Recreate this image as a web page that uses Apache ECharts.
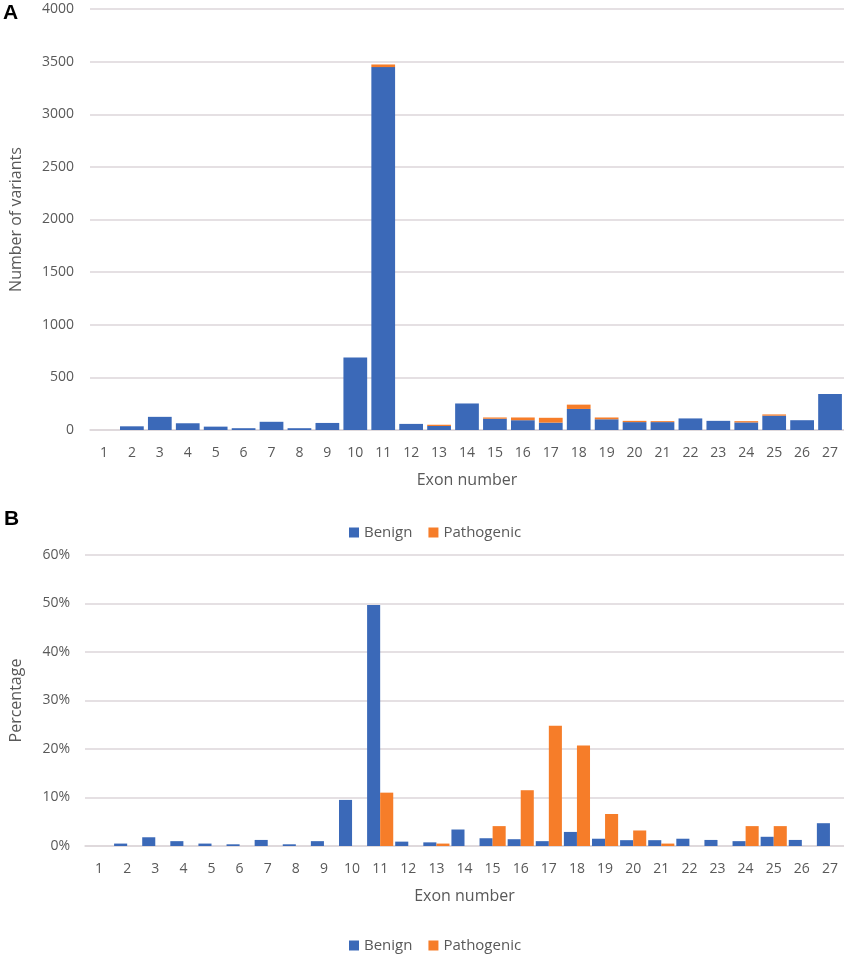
<!DOCTYPE html>
<html>
<head>
<meta charset="utf-8">
<script src="https://cdn.jsdelivr.net/npm/echarts@6/dist/echarts.min.js"></script>
<style>
  html, body { margin: 0; padding: 0; background: #fff; }
  #chart { width: 844px; height: 954px; }
</style>
</head>
<body>
<div id="chart"></div>
<script>
var exons = [];
for (var i = 1; i <= 27; i++) { exons.push(String(i)); }

// panel A: number of variants per exon (stacked)
var benignCounts = [0, 35, 125, 64, 32, 17, 78, 17, 67, 690, 3448, 58, 38, 252, 107, 93, 70, 200, 102, 75, 75, 110, 87, 72, 136, 93, 342];
var pathogenicCounts = [0, 0, 0, 0, 0, 0, 0, 0, 0, 0, 25, 0, 12, 0, 12, 26, 46, 41, 17, 12, 9, 0, 0, 12, 12, 0, 0];

// panel B: percentage of each class per exon
var benignPct = [0, 0.5, 1.8, 1.0, 0.5, 0.35, 1.25, 0.35, 1.0, 9.5, 49.7, 0.9, 0.75, 3.4, 1.6, 1.4, 1.0, 2.9, 1.5, 1.2, 1.2, 1.5, 1.25, 1.0, 1.9, 1.25, 4.7];
var pathogenicPct = [0, 0, 0, 0, 0, 0, 0, 0, 0, 0, 11, 0, 0.5, 0, 4.1, 11.5, 24.8, 20.7, 6.6, 3.2, 0.5, 0, 0, 4.1, 4.1, 0, 0];

var blue = '#3b69b8';
var orange = '#f67d29';
var grey = '#595959';
var gridColor = '#ddd6da';
var font = 'Open Sans';

var chart = echarts.init(document.getElementById('chart'));

function xAxisFor(gridIndex) {
    return {
        type: 'category',
        gridIndex: gridIndex,
        data: exons,
        name: 'Exon number',
        nameLocation: 'middle',
        nameGap: 42,
        nameTextStyle: { color: grey, fontSize: 16, fontFamily: font },
        axisLine: { lineStyle: { color: gridColor, width: 1.5 } },
        axisTick: { show: false },
        axisLabel: { color: grey, fontSize: 14, fontFamily: font, margin: 16, interval: 0 }
    };
}

var option = {
    backgroundColor: '#fff',
    animation: false,
    textStyle: { fontFamily: font },
    grid: [
        { left: 88, right: 0, top: 9, height: 421 },
        { left: 83, right: 0, top: 555, height: 291 }
    ],
    legend: [
        {
            data: ['Benign', 'Pathogenic'],
            left: 344, top: 520,
            icon: 'rect', itemWidth: 10, itemHeight: 10, itemGap: 16,
            selectedMode: false,
            textStyle: { color: grey, fontSize: 15, fontFamily: font }
        },
        {
            data: ['Benign', 'Pathogenic'],
            left: 344, top: 933,
            icon: 'rect', itemWidth: 10, itemHeight: 10, itemGap: 16,
            selectedMode: false,
            textStyle: { color: grey, fontSize: 15, fontFamily: font }
        }
    ],
    xAxis: [xAxisFor(0), xAxisFor(1)],
    yAxis: [
        {
            type: 'value',
            gridIndex: 0,
            min: 0, max: 4000, interval: 500,
            name: 'Number of variants',
            nameLocation: 'middle',
            nameGap: 66,
            nameTextStyle: { color: grey, fontSize: 16, fontFamily: font },
            axisLine: { show: false },
            axisTick: { show: false },
            axisLabel: {
                color: grey, fontSize: 14, fontFamily: font, margin: 16,
                formatter: function (v) { return String(v); }
            },
            splitLine: { lineStyle: { color: gridColor, width: 1.5 } }
        },
        {
            type: 'value',
            gridIndex: 1,
            min: 0, max: 60, interval: 10,
            name: 'Percentage',
            nameLocation: 'middle',
            nameGap: 61,
            nameTextStyle: { color: grey, fontSize: 16, fontFamily: font },
            axisLine: { show: false },
            axisTick: { show: false },
            axisLabel: { color: grey, fontSize: 14, fontFamily: font, margin: 15, formatter: '{value}%' },
            splitLine: { lineStyle: { color: gridColor, width: 1.5 } }
        }
    ],
    graphic: [
        { type: 'text', left: 3, top: 3, style: { text: 'A', fontSize: 21, fontWeight: 'bold', fontFamily: 'Liberation Sans', fill: '#000' } },
        { type: 'text', left: 4, top: 509, style: { text: 'B', fontSize: 21, fontWeight: 'bold', fontFamily: 'Liberation Sans', fill: '#000' } }
    ],
    series: [
        {
            name: 'Benign', type: 'bar', xAxisIndex: 0, yAxisIndex: 0,
            stack: 'count', barCategoryGap: '15%',
            itemStyle: { color: blue },
            data: benignCounts
        },
        {
            name: 'Pathogenic', type: 'bar', xAxisIndex: 0, yAxisIndex: 0,
            stack: 'count', barCategoryGap: '15%',
            itemStyle: { color: orange },
            data: pathogenicCounts
        },
        {
            name: 'Benign', type: 'bar', xAxisIndex: 1, yAxisIndex: 1,
            barGap: '0%', barCategoryGap: '7%',
            itemStyle: { color: blue },
            data: benignPct
        },
        {
            name: 'Pathogenic', type: 'bar', xAxisIndex: 1, yAxisIndex: 1,
            barGap: '0%', barCategoryGap: '7%',
            itemStyle: { color: orange },
            data: pathogenicPct
        }
    ]
};

chart.setOption(option);
</script>
</body>
</html>
